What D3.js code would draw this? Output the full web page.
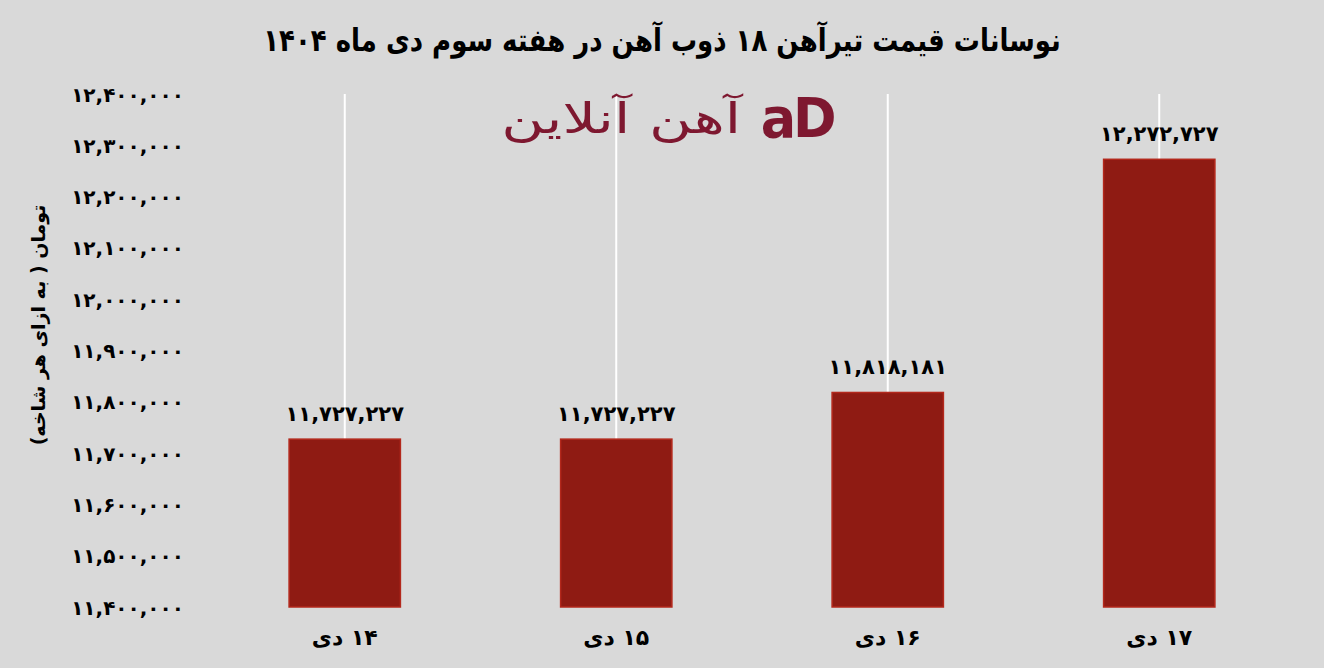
<!DOCTYPE html>
<html><head><meta charset="utf-8">
<script src="https://cdn.jsdelivr.net/npm/d3@7"></script>
<style>
html,body{margin:0;padding:0;background:#d9d9d9;}
svg{display:block;}
text{font-family:"DejaVu Sans",sans-serif;font-weight:bold;}
</style></head><body>
<svg id="c" width="1324" height="668"></svg>
<script>
const titleText = "نوسانات قیمت تیرآهن ۱۸ ذوب آهن در هفته سوم دی ماه ۱۴۰۴";
const yAxisTitle = "تومان ( به ازای هر شاخه)";
const categories = ["۱۴ دی", "۱۵ دی", "۱۶ دی", "۱۷ دی"];
const values = [11727227, 11727227, 11818181, 12272727];
const yTicks = [11400000, 11500000, 11600000, 11700000, 11800000, 11900000, 12000000, 12100000, 12200000, 12300000, 12400000];
const logoText = "آهن آنلاین";

const fa = s => String(s).replace(/[0-9]/g, d => "۰۱۲۳۴۵۶۷۸۹"[+d]);
const fmt = v => fa(d3.format(",")(v));

const svg = d3.select("#c");
svg.append("rect").attr("width",1324).attr("height",668).attr("fill","#d9d9d9");

const x = d3.scaleBand().domain(categories).range([209,1295]).paddingInner(0.59).paddingOuter(0.295);
const y = d3.scaleLinear().domain([11400000,12400000]).range([607,94]);

// vertical gridlines at category centers
svg.append("g").selectAll("line").data(categories).join("line")
  .attr("x1", d => x(d)+x.bandwidth()/2).attr("x2", d => x(d)+x.bandwidth()/2)
  .attr("y1", y(12400000)).attr("y2", y(11400000))
  .attr("stroke","#ffffff").attr("stroke-width",2);

// logo
const logo = svg.append("g");
logo.append("text").attr("transform","translate(741,133) scale(1.4,1)").attr("text-anchor","end")
  .attr("font-size",42).attr("fill","#7e1830").style("font-weight","normal").text(logoText);
logo.append("text").attr("transform","translate(797,137) scale(1.05,1.1)").attr("text-anchor","middle")
  .attr("font-size",50).attr("fill","#7e1830").attr("letter-spacing",-3).text("aD");

// bars
svg.append("g").selectAll("rect").data(values).join("rect")
  .attr("x",(d,i)=>x(categories[i])).attr("width",x.bandwidth())
  .attr("y",d=>y(d)).attr("height",d=>y(11400000)-y(d))
  .attr("fill","#8f1b13").attr("stroke","#b3281c").attr("stroke-width",1.5);

// value labels
svg.append("g").selectAll("text").data(values).join("text")
  .attr("x",(d,i)=>x(categories[i])+x.bandwidth()/2).attr("y",d=>y(d)-18)
  .attr("text-anchor","middle").attr("font-size",21).attr("fill","#000")
  .text(d=>fmt(d));

// y axis
const yAxis = d3.axisLeft(y).tickValues(yTicks).tickFormat(fmt).tickSize(0).tickPadding(0);
const gy = svg.append("g").attr("transform","translate(184,0)").call(yAxis);
gy.select(".domain").remove();
gy.selectAll("text").attr("font-size",20).attr("fill","#000")
  .style("font-family","'DejaVu Sans',sans-serif").style("font-weight","bold").attr("dy","0.35em");

// x axis
const xAxis = d3.axisBottom(x).tickSize(0).tickPadding(0);
const gx = svg.append("g").attr("transform","translate(0,637)").call(xAxis);
gx.select(".domain").remove();
gx.selectAll("text").attr("font-size",22).attr("fill","#000").attr("dy","0.35em")
  .style("font-family","'DejaVu Sans',sans-serif").style("font-weight","bold").attr("direction","rtl").attr("text-anchor","middle");

// y axis title
svg.append("text").attr("transform","translate(38,325) rotate(-90)")
  .attr("text-anchor","middle").attr("dy","0.35em").attr("font-size",19).attr("fill","#000").attr("direction","rtl")
  .text(yAxisTitle);

// title
svg.append("text").attr("transform","translate(662,40) scale(1,1.2)").attr("text-anchor","middle").attr("dy","0.35em")
  .attr("font-size",26).attr("fill","#000").attr("direction","rtl").text(titleText);
</script>
</body></html>
